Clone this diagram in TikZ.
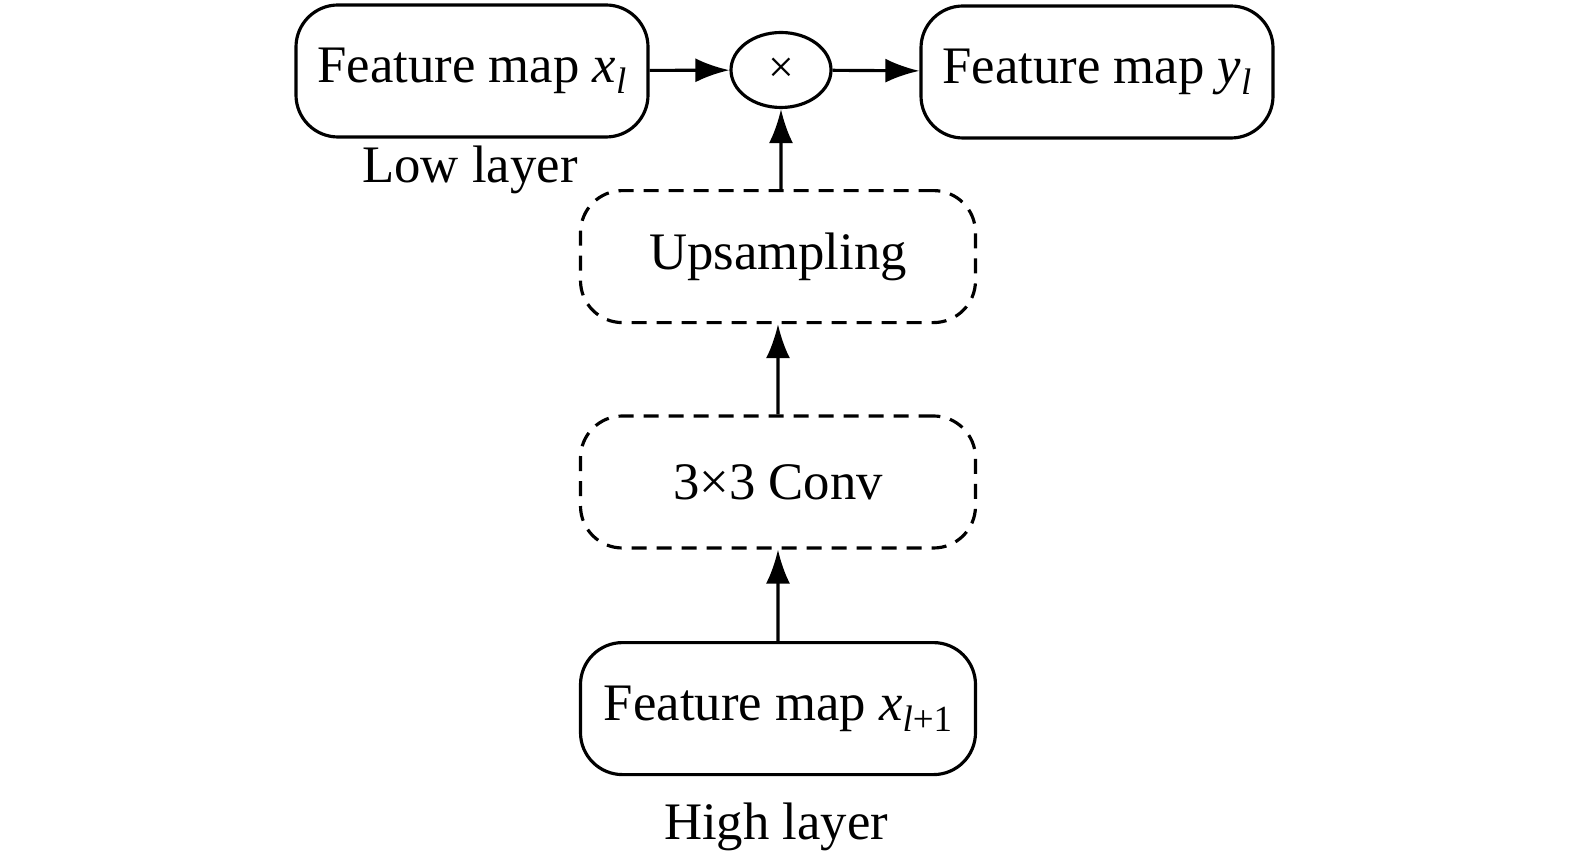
\documentclass[tikz,border=0pt]{standalone}
\usepackage{fontspec}
\setmainfont{Liberation Serif}
\usetikzlibrary{arrows.meta,shapes.geometric}
\newcommand{\lowidx}[1]{\raisebox{-0.45ex}{\fontsize{10.5}{12}\selectfont #1}}

\begin{document}
\begin{tikzpicture}[scale=0.2]
		\tikzstyle{every node}+=[font=\fontsize{15}{18}\selectfont]
		\tikzstyle{mapbox}=[draw=black, line width=0.9pt, rounded corners=0.42cm, minimum width=3.52cm, minimum height=1.32cm, inner sep=0pt]
		\tikzstyle{opbox}=[mapbox, dashed, dash pattern=on 1.5mm off 1mm, minimum width=3.95cm]
		\tikzstyle{flow}=[black, line width=0.9pt, -{Latex[length=3.4mm,width=2.4mm]}]
		\useasboundingbox (0,0) rectangle (78.75,-43.1);
		\node [mapbox] (xl) at (23.6,-3.55) {Feature map \textit{x}\lowidx{\textit{l}}};
		\node [draw=black, line width=0.9pt, ellipse, minimum width=1cm, minimum height=0.75cm, inner sep=0pt] (mul) at (39.05,-3.5) {\fontsize{13}{15}\selectfont ×};
		\node [mapbox] (yl) at (54.85,-3.6) {Feature map \textit{y}\lowidx{\textit{l}}};
		\node (low) at (23.5,-8.5) {Low layer};
		\node [opbox] (up) at (38.9,-12.83) {Upsampling};
		\node [opbox] (conv) at (38.9,-24.1) {3×3 Conv};
		\node [mapbox, minimum width=3.95cm] (xh) at (38.9,-35.43) {Feature map \textit{x}\lowidx{\textit{l}+1}};
		\node (high) at (38.8,-41.35) {High layer};
		\draw [flow] (xl) -- (mul);
		\draw [flow] (mul) -- (yl);
		\draw [flow] (up.north -| mul) -- (mul);
		\draw [flow] (conv) -- (up);
		\draw [flow] (xh) -- (conv);
\end{tikzpicture}
\end{document}
